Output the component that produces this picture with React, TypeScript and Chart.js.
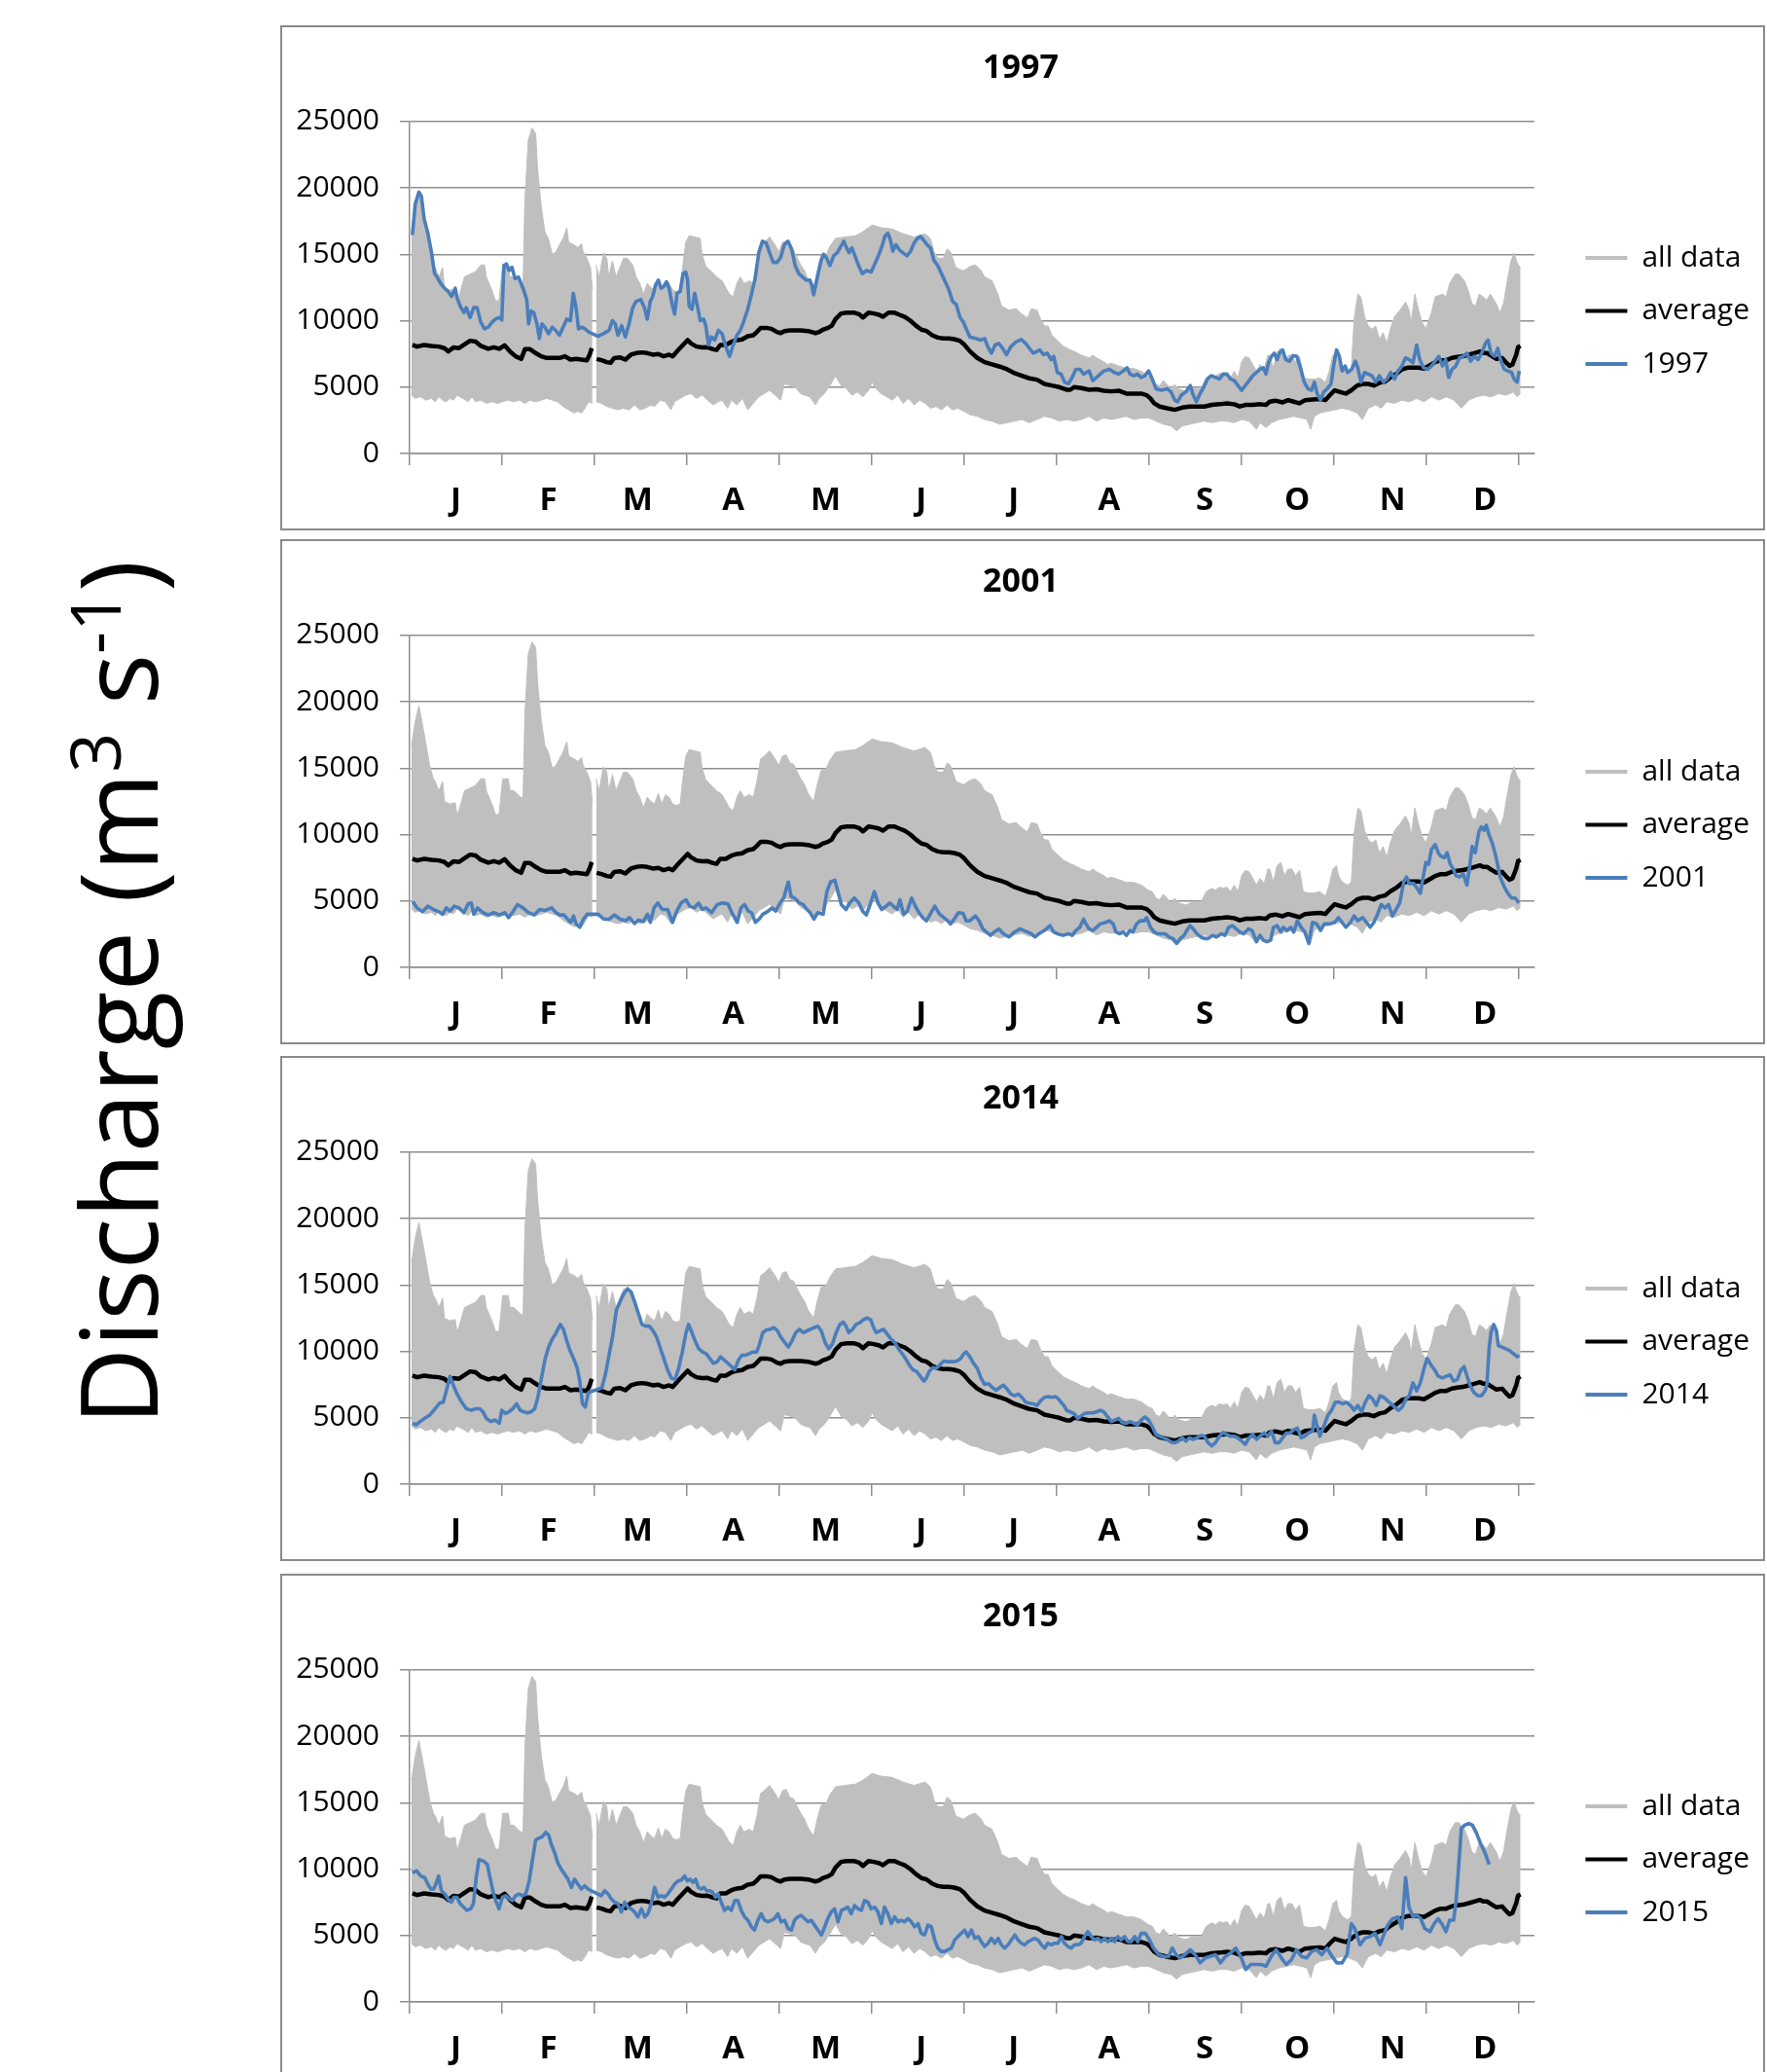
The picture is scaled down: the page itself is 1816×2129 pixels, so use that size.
import React, { useEffect, useRef } from 'react';
import { Chart, registerables } from 'chart.js';

Chart.register(...registerables);

const FONT = '"Open Sans", "Liberation Sans", sans-serif';
const GRAY = '#BFBFBF';
const BLUE = '#4A7EBB';
const AXIS = '#8E8E8E';

const MONTH_LABELS = ['J', 'F', 'M', 'A', 'M', 'J', 'J', 'A', 'S', 'O', 'N', 'D'];
const MONTH_LABEL_DAYS = [15, 45, 74, 105, 135, 166, 196, 227, 258, 288, 319, 349];
const TICK_DAYS = [0, 30, 60, 90, 120, 150, 180, 210, 240, 270, 300, 330, 360];
const Y_TICKS = [0, 5000, 10000, 15000, 20000, 25000];
const YEARS = ['1997', '2001', '2014', '2015'];

type P = [number, number | null];

// upper envelope of all years ("all data")
const ALL_MAX: P[] = [[0.6,16700],[1.8,18500],[3,19700],[4.7,17600],[6.5,15200],[7.7,14200],[8.3,14000],[9.5,13300],[10.7,14000],[11.3,12500],[13,12300],[14.8,12400],[15.4,11400],[16.6,12300],[17.8,13300],[19.6,13500],[21.4,13700],[23.1,14200],[24.3,14200],[24.9,13300],[26.7,12300],[27.9,11500],[29,11500],[30.2,14200],[32,14200],[32.6,13300],[33.8,13300],[35.6,12900],[36.8,12700],[37.4,19100],[38.5,23600],[39.7,24500],[40.9,24100],[41.5,21500],[42.7,18600],[43.9,16700],[45,16200],[46.3,15000],[47.5,15200],[48.6,15700],[49.8,16200],[51,17000],[51.6,15900],[53.4,15700],[54.6,15500],[55.8,15800],[56.3,15200],[57.5,14700],[58.7,14000],[59.3,12300],[60,null],[60.5,14200],[61.5,13300],[62.9,15100],[64,14700],[64.6,13300],[65.8,14500],[67,13300],[68.2,14000],[69.4,14700],[70.6,14700],[72.4,14200],[73.5,13300],[74.7,12800],[75.9,12000],[77.1,12800],[78.3,12500],[79.5,12300],[80.7,13100],[81.8,12300],[83,13000],[84.2,12800],[85.4,12300],[86.6,12200],[87.8,12300],[88.4,13700],[89.6,15900],[90.7,16400],[92.5,16300],[94.3,16200],[94.9,15000],[96.1,14100],[97.9,13700],[99.6,13300],[101.4,13000],[102.6,12500],[103.8,12000],[105,11800],[106.2,12800],[107.3,13300],[108.5,12800],[110.3,13000],[111.5,12800],[112.7,14000],[113.9,15700],[115.1,15900],[116.8,16300],[118.6,15700],[119.8,15200],[121,15900],[122.2,16000],[123.4,15400],[124.6,15300],[125.8,14700],[126.9,14200],[128.1,13800],[129.3,13100],[131.1,12500],[132.3,13800],[133.5,14800],[135.2,14960],[136.4,15600],[138.2,16200],[141.2,16300],[144.7,16400],[147.1,16700],[150.1,17200],[153,17000],[156.6,16900],[160.1,16550],[163.7,16300],[167.2,16550],[169,16200],[170.2,15200],[171.4,14700],[173.2,14700],[174.4,15400],[175.5,15200],[177.3,14000],[179.7,13750],[182,14100],[183.6,14200],[185.4,13800],[186.6,13300],[189,13000],[190.9,12000],[192.1,11100],[194.5,10800],[196.9,10900],[198.1,10600],[200.5,10200],[201.7,10900],[203.6,10800],[204.8,10100],[206,9600],[207.2,9600],[208.4,8900],[210.2,8500],[212,8100],[214.4,7800],[215.6,7700],[218,7400],[220.5,7200],[221.7,7400],[222.9,7200],[225.3,6900],[226.5,6700],[227.7,6800],[230.1,6600],[232.6,6400],[235,6400],[237.4,6200],[239.8,5800],[241,5700],[242.2,5200],[243.4,5100],[244.6,5500],[245.8,5200],[247,4850],[248.3,5200],[249.5,4850],[251.9,4700],[254.3,4950],[256.7,4850],[258.5,5700],[260.3,5950],[261.5,5800],[262.8,6050],[264,5950],[265.2,6050],[266.4,5700],[267.6,6200],[268.8,5700],[270,6900],[271.2,7300],[272.4,7200],[273.6,6700],[274.8,6200],[276,6700],[277.3,6300],[278.5,7400],[279.1,7400],[280.3,6430],[281.5,7650],[282.7,7900],[283.9,6900],[285.1,7400],[286.3,7400],[287.5,6900],[288.8,7300],[290,5700],[291.8,5600],[293.6,5600],[295.4,5700],[297.2,5340],[298.4,6200],[299.6,7400],[300.8,7650],[301.4,6920],[302.6,6430],[304.4,6190],[305.6,6430],[306.5,10100],[307.7,12000],[308.7,11800],[309.9,10300],[311.1,9600],[312.3,9360],[313.5,9600],[314.7,8600],[315.9,9100],[317.1,8300],[318.3,9400],[319.6,10300],[321.4,10800],[323.2,11400],[324.4,10800],[325,9840],[326.2,12000],[327.4,10800],[328.6,9840],[329.8,9400],[331.6,10600],[332.8,11800],[335.2,12000],[336.4,11800],[337.5,12800],[339.3,13500],[340.5,13500],[342.3,13000],[343.5,12300],[344.7,11300],[345.9,11100],[347.1,12000],[348.4,11800],[349.5,11550],[350.7,12000],[352.6,11300],[353.8,10600],[355,11300],[356.2,13000],[357.4,14500],[358.4,15100],[359.2,14500],[359.8,14200],[360.5,14000]];

// lower envelope of all years ("all data")
const ALL_MIN: P[] = [[0.6,4400],[1.8,4150],[3.5,4270],[5.3,4020],[7.1,4150],[8.3,3900],[9.5,4270],[10.7,4020],[11.9,3900],[13.1,4150],[14.2,4020],[15.4,4390],[17.2,4150],[19,3900],[20.2,4270],[21.4,3900],[23.1,4020],[24.9,3780],[26.7,3900],[28.5,3780],[30.2,3900],[32,4020],[33.8,3900],[35.6,4020],[37.4,3780],[39.1,4020],[40.9,3900],[42.7,4020],[44.5,4150],[46.3,4020],[48,3900],[49.8,3540],[51.6,3290],[53.4,3050],[54.6,3170],[55.8,3050],[56.9,3410],[58.1,3900],[59.3,3780],[60,null],[60.5,3900],[62.3,3780],[64,3540],[65.8,3410],[67.6,3290],[69.4,3410],[71.2,3290],[73,3660],[74.7,3290],[76.5,3410],[78.3,3660],[79.5,3540],[81.3,4020],[83,3900],[84.8,3290],[86,3900],[87.8,4150],[89.6,4390],[91.3,4510],[93.1,4150],[94.9,4390],[96.7,4020],[98.5,3660],[100.2,3900],[101.4,4020],[103.2,3410],[104.4,4020],[106.2,3660],[108,4150],[109.7,3290],[111.5,3780],[113.3,4270],[115.1,4510],[116.8,4760],[118.6,4390],[120.4,4020],[121.6,5240],[123.4,5120],[125.1,5000],[126.9,4510],[128.1,4390],[129.9,4270],[131.7,3660],[132.9,4150],[134.6,4510],[136.4,5120],[138.2,5850],[140,5120],[141.8,4880],[143.5,4390],[145.3,4630],[147.1,4270],[148.9,4760],[150.1,5370],[151.3,4880],[153,4510],[154.8,4270],[156.6,4020],[158.4,4390],[160.1,3780],[161.9,4150],[163.7,3660],[165.5,4020],[167.3,3780],[169,3410],[170.8,3540],[172.6,3290],[174.4,3660],[176.1,3290],[177.9,3410],[180,3170],[181.8,2930],[184.2,2800],[186.6,2560],[189,2440],[191.5,2200],[193.9,2320],[196.3,2440],[198.7,2560],[201.1,2320],[203.6,2560],[206,2800],[208.4,2680],[210.8,2440],[213.2,2560],[215.6,2440],[218,2560],[220.5,2800],[222.9,2440],[225.3,2680],[227.7,2560],[230.1,2680],[232.6,2800],[235,2560],[237.4,2680],[239.8,2680],[242.2,2440],[244.6,2200],[247.1,2070],[248.9,1710],[250.7,2070],[253.1,2200],[255.5,2320],[257.9,2440],[260.3,2320],[262.8,2440],[265.2,2440],[267.6,2320],[270,2560],[272.4,2440],[274.8,1830],[276,2320],[277.9,1950],[279.7,2320],[282.1,2560],[284.5,2680],[286.9,2800],[289.3,2680],[291.2,2560],[292.4,1830],[293.6,2800],[295.4,3050],[297.8,3170],[300.2,3290],[302.6,3410],[305,3290],[307.4,3050],[309.2,2560],[311.1,3410],[313.5,3660],[315.3,3410],[317.1,3900],[319.6,3780],[322,4020],[324.4,3900],[326.8,4150],[329.2,3900],[331.6,4270],[334,4020],[336.4,4270],[338.9,4020],[341.3,3410],[343.7,4020],[346.1,4270],[348.5,4390],[351,4270],[353.4,4510],[355.8,4390],[358.2,4630],[359.4,4270],[360.5,4510]];

// long-term average
const AVERAGE: P[] = [[0.9,8170],[2.4,8050],[4.7,8170],[7.1,8100],[9.5,8050],[11.3,7930],[12.5,7680],[14.2,7980],[16,7930],[17.8,8220],[19.6,8490],[21.4,8420],[23.1,8100],[25.5,7880],[27.3,8000],[29.1,7880],[30.8,8150],[32.6,7680],[34.4,7320],[36.2,7120],[37.4,7850],[39.1,7850],[40.9,7560],[42.7,7320],[44.5,7190],[46.3,7190],[48.6,7190],[50.4,7320],[52.2,7070],[54,7120],[55.8,7070],[57.5,7020],[58.4,7440],[59.1,7930],[60,null],[60.7,7120],[62.3,7020],[64,6880],[65.2,6830],[66.4,7190],[68.2,7240],[70,7070],[71.8,7440],[73.5,7560],[75.3,7610],[77.1,7560],[78.9,7440],[80.7,7490],[82.4,7320],[84.2,7440],[85.4,7320],[87.2,7800],[89,8240],[90.2,8540],[91.3,8290],[93.1,8050],[94.9,7980],[96.7,8000],[98.5,7850],[99.6,7800],[100.8,8170],[102.6,8170],[104.4,8410],[106.2,8540],[107.9,8590],[109.7,8830],[111.5,8900],[112.7,9150],[113.9,9460],[115.7,9460],[117.4,9390],[119.2,9150],[120.4,9070],[121.6,9220],[123.4,9270],[125.1,9270],[126.9,9270],[129.3,9220],[131.7,9070],[132.9,9150],[134,9320],[135.8,9460],[137,9630],[138.2,10120],[140,10540],[141.8,10610],[144.1,10610],[145.9,10490],[147.1,10240],[148.9,10610],[150.7,10540],[152.4,10440],[153.6,10290],[155.4,10610],[157.2,10610],[159,10440],[160.7,10290],[162.5,10000],[164.3,9630],[166.1,9320],[167.8,9220],[169.6,8900],[171.4,8730],[173.2,8660],[175,8660],[176.7,8610],[178.5,8490],[180,8200],[181.8,7700],[184.2,7200],[186.6,6880],[189,6710],[191.5,6540],[193.9,6340],[196.3,6050],[198.7,5850],[201.1,5660],[203.6,5560],[206,5240],[208.4,5120],[210.8,5000],[213.2,4800],[214.4,4800],[215.6,5000],[218,4930],[220.5,4800],[222.9,4830],[225.3,4730],[227.7,4680],[230.1,4730],[232.6,4510],[235,4510],[237.4,4510],[239.2,4390],[240.4,4150],[241.6,3780],[243.4,3540],[245.8,3410],[248.3,3290],[250.7,3460],[253.1,3540],[255.5,3540],[257.9,3540],[260.3,3660],[262.8,3710],[265.2,3780],[267.6,3710],[269.4,3540],[271.2,3660],[273.6,3660],[276,3710],[277.9,3660],[279.1,3900],[280.9,3980],[283.3,3850],[285.1,4020],[286.9,3900],[288.7,3780],[290.6,4020],[293,4070],[295.4,4100],[297.2,4020],[298.4,4340],[300.2,4760],[302,4630],[303.8,4510],[305.6,4760],[307.5,5120],[309.3,5240],[311.1,5240],[312.9,5120],[314.7,5320],[316.5,5410],[318.3,5730],[320.1,5980],[322,6340],[323.8,6460],[325.6,6460],[327.4,6460],[329.2,6390],[331,6630],[332.8,6880],[334.6,7020],[336.4,7020],[338.2,7200],[340,7270],[341.8,7320],[343.7,7440],[345.5,7560],[347.3,7680],[348.5,7560],[349.7,7560],[350.9,7370],[352.7,7120],[354.5,7190],[355.7,6880],[356.9,6590],[357.9,6710],[359.1,7440],[359.7,8000],[360.5,8100]];

const Y1997: P[] = [[0.9,16460],[1.8,18780],[3,19680],[3.8,19390],[4.7,17680],[5.9,16590],[7.1,15120],[8.1,13540],[8.9,13290],[10.1,12800],[11.3,12440],[12.5,12200],[13.6,11830],[14.8,12440],[15.4,11710],[16.4,11100],[17.6,10610],[18.4,10980],[19.6,10240],[20.8,10980],[21.9,10980],[23.1,9880],[24.3,9390],[25.5,9510],[26.7,9880],[27.9,10120],[29.1,10240],[29.9,10050],[30.6,14150],[31.4,14270],[32.3,13780],[33.2,14020],[34.2,13170],[35.3,13290],[36.8,12440],[38,11590],[38.6,9760],[39.4,10730],[40.3,10610],[41.3,9760],[42.1,8660],[42.9,9760],[43.9,9510],[45.1,9020],[46.3,9510],[47.4,9270],[48.6,8900],[49.8,9510],[51,10120],[52.2,10000],[53.1,12070],[54,10980],[54.8,9390],[55.8,9510],[56.9,9390],[58.1,9150],[59.3,9020],[61.1,8830],[62.9,9020],[64.7,9270],[65.8,10000],[66.7,9760],[67.6,8900],[68.8,9630],[70,8780],[71.2,9760],[72.4,10980],[73.5,11460],[75,11590],[76.2,10980],[77.1,10120],[78.1,11460],[78.9,11830],[79.8,12680],[80.7,13050],[81.6,12440],[82.4,12560],[83.4,12930],[84.2,12440],[85.2,11220],[86,10490],[86.8,12070],[87.8,12200],[88.7,13540],[89.6,13660],[90.2,13050],[90.7,11100],[91.6,10850],[92.5,12070],[93.5,10980],[94.3,10000],[95.4,10120],[96.1,9630],[97,8170],[97.9,8780],[99,8540],[100.2,9270],[101.4,9020],[102.6,8050],[103.8,7320],[105,8170],[106.2,8900],[107.3,9270],[108.5,10000],[109.7,10850],[110.9,11950],[112.1,13170],[113.3,15120],[114.5,15980],[115.7,15850],[116.8,15120],[118,14390],[119.2,14390],[120.4,14760],[121.6,15730],[122.8,15980],[124,15370],[125.1,14150],[126.3,13540],[127.5,13290],[128.7,13050],[129.9,13050],[130.5,12680],[131.1,11950],[132,12930],[133.5,14510],[134.3,15000],[135.2,14760],[136.4,14150],[137.6,14880],[138.8,15120],[140,15610],[140.9,15980],[141.8,15490],[142.6,15120],[143.5,15490],[144.5,14880],[145.7,14150],[146.9,13540],[148.3,13780],[149.8,13660],[150.7,14150],[152.1,14880],[153.3,15610],[154.2,16340],[155.2,16590],[156,16100],[156.8,15240],[157.8,15730],[158.8,15370],[160,15120],[161.4,14880],[162.6,15240],[163.7,15850],[164.9,16220],[165.8,16340],[166.7,16100],[167.9,15730],[169,15490],[170.2,14510],[171.4,14150],[172.6,13540],[173.8,12930],[175,12320],[176.2,11460],[177.4,11220],[178.6,10240],[179.7,9900],[180.6,9400],[181.8,8780],[183.6,8660],[185.4,8540],[186.6,8660],[187.6,8050],[188.8,7560],[190,8170],[191.2,8290],[192.4,7930],[193.7,7440],[195.1,8050],[196.9,8410],[198.5,8590],[199.9,8290],[201.1,7930],[202.4,7560],[203.6,7680],[204.5,7800],[205.7,7440],[206.9,7560],[208.2,7070],[209,7320],[210.2,6100],[211.4,5980],[212.6,5370],[213.8,5240],[215,5730],[216.2,6340],[217.5,6340],[218.7,5980],[220.5,6220],[221.7,5490],[223.5,5850],[225.3,6220],[227.1,6340],[228.7,6100],[230.1,5980],[231.6,6220],[232.8,6460],[233.8,5980],[235,5850],[236.2,5980],[237.4,5730],[238.6,5850],[239.8,6220],[241,5610],[242.2,4880],[244,4760],[245.8,4880],[247.1,4630],[248.3,4020],[249.2,3900],[250.4,4390],[251.9,4630],[253.3,5120],[254.3,4390],[255.3,3900],[256.5,4510],[257.7,5000],[258.9,5610],[260.1,5850],[261.5,5730],[262.8,5610],[264,5980],[265.2,5980],[266.4,5610],[267.6,5490],[268.8,5120],[270,4760],[271.2,5120],[272.4,5490],[273.6,5850],[274.8,6100],[276,6340],[277,6460],[277.9,5980],[278.7,6830],[279.7,7320],[280.6,7560],[281.5,7070],[282.3,7560],[283.3,7800],[284.3,7070],[285.5,6950],[286.7,7370],[287.9,7320],[289.1,6460],[290.3,5370],[291.5,4880],[292.7,4760],[293.6,5370],[294.5,4510],[295.6,4020],[296.6,4630],[297.8,4880],[299,5240],[300,6830],[300.8,7800],[301.7,7320],[302.6,6220],[303.6,6590],[304.4,6100],[305.7,6340],[306.9,6950],[307.7,6460],[308.7,5370],[309.9,6100],[311.1,5980],[312.3,5850],[313.5,5370],[314.7,5850],[316,5370],[317.2,5610],[318.4,6100],[319.6,5610],[320.8,6220],[322,6590],[323.2,7200],[324.4,7070],[325.6,6830],[326.8,8170],[327.8,7070],[329,6460],[330.4,6340],[331.6,6590],[332.8,6950],[334,7320],[335.2,6590],[336.2,7070],[337.2,5730],[338.3,6340],[339.5,6590],[340.7,7200],[341.9,7320],[343.1,7560],[344.3,6950],[345.5,7320],[346.7,7070],[347.9,7560],[349.1,8290],[350,8540],[350.9,7560],[352.1,7320],[353.1,7930],[354,7070],[355.2,6340],[356.4,6220],[357.6,6100],[358.4,5610],[359.4,5370],[360.1,6220]];

const Y2001: P[] = [[1,4970],[2.4,4480],[4.2,4190],[5.9,4610],[7.7,4360],[9.5,4190],[10.7,4000],[11.9,4480],[13.1,4240],[14.5,4610],[16,4480],[17.6,4120],[19,4780],[20,4850],[20.8,4000],[22,4480],[23.8,4120],[25.5,3950],[27.3,4120],[29.1,3950],[30.9,4120],[32.1,3750],[33.5,4190],[35,4730],[36.8,4480],[38.6,4120],[40.4,3950],[42.2,4360],[43.9,4290],[46.1,4480],[47.5,4120],[48.7,3950],[50.1,3950],[51.3,3630],[52.3,3390],[53.2,3870],[54,3270],[55.2,3020],[56.4,3630],[57.6,4000],[59.4,4000],[61.2,4000],[63,3630],[64.7,3630],[66.5,3950],[68.3,3630],[70.1,3510],[71.3,3750],[73,3310],[74.2,3560],[75.8,3460],[77.2,4000],[78.1,3390],[79.3,4480],[80.5,4850],[82,4360],[83.7,4360],[85.3,3390],[86.7,4240],[88.1,4850],[89.7,5090],[90.9,4610],[92.4,4480],[93.8,4850],[95,4360],[96.2,4480],[98,4120],[99.8,4730],[101.5,4850],[103.3,4780],[104.8,4000],[106.3,3390],[107.5,4480],[108.7,4730],[109.9,4240],[111,4120],[112.2,3390],[113.4,3630],[114.6,4000],[116.4,4240],[117.6,4480],[118.8,4240],[120.2,4850],[121.4,5220],[122.1,5820],[122.9,6430],[123.8,5340],[124.9,5220],[126.5,4850],[127.7,4730],[128.9,4360],[130,4120],[131.2,3630],[132.4,4120],[134.2,4000],[135.4,5700],[136.6,6430],[138,6560],[139,5700],[140.1,4730],[141.6,4360],[142.8,4850],[144.3,5220],[145.8,4850],[147,4240],[148.2,3950],[149.6,4850],[150.8,5700],[152,4850],[153.2,4360],[154.6,4610],[155.8,4850],[157,4610],[158.2,4360],[159.1,5090],[160.3,4000],[161.5,4240],[162.9,5220],[164.1,4610],[165.3,4120],[166.5,3750],[167.7,3510],[169.2,4120],[170.4,4610],[172,4000],[173.4,3750],[174.6,3510],[175.5,3270],[176.7,3630],[178.1,4120],[179.6,4060],[180.6,3510],[181.8,3510],[183.6,3870],[184.8,3510],[186,2900],[187.2,2660],[188.5,2410],[189.7,2660],[191.2,2900],[192.7,2530],[194.5,2290],[196.3,2660],[198.1,2900],[199.3,2780],[200.5,2660],[201.7,2530],[203,2290],[204.2,2530],[206,2780],[207.8,3140],[209,2660],[210.2,2530],[212,2410],[213.8,2530],[215,2410],[216.2,2780],[217.5,3020],[218.7,3630],[219.5,3270],[220.5,2900],[221.7,2780],[222.9,3020],[224.1,3270],[225.9,3390],[227.1,3510],[228.3,3270],[229.2,2660],[230.4,2530],[231.6,2660],[232.6,2410],[233.8,2780],[234.7,2660],[235.9,3270],[237.1,3510],[238.4,3510],[239.2,3750],[240.4,3020],[241.6,2660],[242.8,2530],[244,2530],[245.2,2530],[246.4,2290],[247.7,2170],[248.9,1800],[250.1,2170],[251.3,2410],[252.5,2900],[253.3,3140],[254.3,2900],[255.5,2530],[256.7,2290],[257.9,2170],[259.1,2170],[260.6,2410],[261.8,2290],[263.4,2530],[264.6,2410],[265.8,3020],[267,3140],[268.2,2900],[269.4,2660],[270.6,2530],[272.2,2900],[273.4,2780],[274.8,1930],[276,2410],[277,2050],[278.2,1930],[279.4,2050],[280.3,3020],[281.5,3140],[282.7,2660],[283.5,3020],[284.7,2780],[285.9,3020],[286.9,2660],[288.1,3510],[289.3,3020],[290.5,2660],[291.8,1800],[293,3390],[294.4,3270],[295.6,2780],[296.8,3270],[298.4,3270],[300.2,3390],[301.4,3750],[302.6,3390],[303.8,3020],[305.3,3390],[306.5,3870],[307.7,3510],[309.3,3750],[310.5,3390],[311.7,3020],[312.9,3390],[314.1,4000],[315.3,4730],[316.5,4480],[317.7,4730],[318.9,3870],[320.1,4360],[321.3,4850],[322.6,6430],[323.5,6800],[324.4,6310],[325.8,6310],[327,5950],[328,5580],[328.9,6800],[329.8,7900],[330.7,7770],[331.6,8870],[332.8,9240],[333.8,8630],[334.6,8380],[335.8,8260],[336.7,8630],[337.7,7770],[338.7,7410],[339.5,6920],[340.7,6800],[341.9,7040],[343.1,6190],[343.9,7410],[344.8,9110],[345.8,8630],[347,10210],[347.8,10580],[348.7,10330],[349.4,10700],[350.3,9970],[351.5,9240],[352.7,8140],[353.9,6800],[355.2,6070],[356.4,5580],[357.6,5220],[358.8,5220],[360,4850]];

const Y2014: P[] = [[1,4590],[2.1,4460],[3.3,4700],[4.8,4950],[6.5,5200],[8.3,5680],[9.7,6100],[10.9,6170],[11.9,7020],[13.1,8120],[14.3,7390],[15.4,6780],[16.9,6170],[18.4,5680],[20,5560],[21.4,5680],[22.8,5680],[23.8,5440],[24.9,4950],[26.4,4710],[27.6,4830],[29.1,4590],[29.9,5560],[31.1,5320],[32.1,5440],[33.5,5680],[34.7,6050],[35.9,5560],[37.1,5440],[38.2,5370],[39.4,5440],[40.6,5680],[41.6,6540],[42.8,8000],[44,9460],[45.1,10320],[46.3,10930],[47.3,11290],[48.1,11660],[48.9,12020],[49.9,11660],[50.8,10930],[52,10070],[53.2,9460],[54.4,8730],[55.2,7760],[56.1,6050],[57,5800],[58,6900],[59.4,7020],[61.2,7150],[62.4,7270],[63.5,8240],[64.7,9710],[65.9,11170],[67.1,13120],[68.3,13730],[69.5,14340],[70.7,14710],[71.9,14460],[73,13730],[74.2,12880],[75.4,12020],[76.6,11900],[77.8,11900],[79,11540],[80.2,11050],[81.4,10200],[82.5,9460],[83.7,8610],[84.9,8000],[86.1,7880],[87.3,8730],[88.5,9950],[89.7,11410],[90.5,12020],[91.4,11540],[92.6,10800],[93.8,10200],[95,9950],[96.2,9830],[97.4,9460],[98.6,9100],[99.8,9220],[100.9,9590],[102.1,9340],[103.3,9100],[104.5,8850],[105.5,8610],[106.7,9340],[107.8,9710],[109,9710],[110.2,9830],[111.4,9950],[112.6,9950],[113.4,10440],[114.6,11410],[115.8,11610],[117,11660],[118.2,11780],[119.4,11540],[120.5,11050],[121.7,10680],[122.9,10320],[124.1,10800],[125.3,11410],[126.5,11660],[127.7,11410],[128.9,11540],[130,11660],[131.2,11780],[132.4,11900],[133.6,11540],[134.8,10680],[136,10200],[137.2,10560],[138.4,11410],[139.6,12020],[140.7,12200],[141.6,11900],[142.5,11410],[143.7,11660],[144.9,12020],[146.1,12150],[147.3,12390],[148.5,12510],[149.6,12390],[150.6,11780],[151.4,11410],[152.6,11540],[153.8,11660],[155,11290],[156.2,10930],[157.4,10680],[158.6,10200],[159.8,9830],[160.9,9460],[162.1,8980],[163.3,8610],[164.5,8490],[165.7,8120],[166.9,7760],[167.7,8000],[168.6,8490],[169.8,8780],[171,8730],[172.2,9020],[173.4,9270],[174.6,9220],[176.4,9220],[177.6,9270],[178.8,9460],[179.9,9830],[180.6,9950],[181.8,9590],[183,9100],[184.2,8730],[185.4,8000],[186.6,7510],[187.9,7560],[189.1,7270],[190.3,7070],[191.5,7270],[192.7,7460],[193.9,7150],[195.1,6780],[196.3,6660],[197.5,6780],[198.7,6540],[199.9,6170],[201.1,6100],[202.4,6050],[203.6,5930],[204.8,6290],[206,6540],[207.2,6590],[208.4,6540],[209.6,6590],[210.6,6410],[211.4,6170],[212.3,5930],[213.2,5560],[214.4,5440],[215.6,5320],[216.8,4950],[217.8,5120],[219,5320],[220.5,5370],[221.7,5370],[222.9,5440],[224.1,5560],[225.3,5440],[226.5,5070],[227.7,4710],[228.9,4830],[230.1,4950],[231.3,4640],[232.6,4590],[233.8,4710],[235,4590],[236.2,4460],[237.4,4830],[238.6,5070],[239.8,4830],[241,4340],[242.2,3730],[243.4,3610],[244.6,3490],[245.8,3370],[247.1,3170],[248.3,3120],[249.5,3240],[250.7,3490],[251.9,3240],[253.1,3490],[254.3,3370],[255.5,3490],[256.7,3660],[257.9,3610],[259.1,3120],[260.3,2880],[261.5,3120],[262.8,3610],[264,3900],[265.2,3730],[266.4,3610],[267.6,3610],[268.8,3490],[270,3240],[271.2,3000],[272.4,3490],[273.6,3730],[274.8,3370],[276,3610],[277.3,3850],[278.5,3610],[279.7,3980],[280.9,3120],[282.1,3120],[283.3,3490],[284.5,3850],[285.7,3850],[286.9,4100],[288.1,4220],[289.3,3490],[290.5,3610],[291.7,3850],[293,3980],[293.6,5200],[294.4,4460],[295.4,3610],[296.8,4460],[298,5200],[299.2,5560],[300.4,6170],[301.6,6170],[302.8,6050],[304,6170],[305.3,5930],[306.5,5560],[307.7,5930],[308.9,5440],[310.1,6170],[311.3,6660],[312.5,6410],[313.7,5930],[314.9,6660],[316.1,6540],[317.3,6290],[318.5,6050],[319.7,5800],[320.9,5560],[322.1,5800],[323.3,6410],[324.4,6660],[325.6,7630],[326.8,7020],[328,7630],[329.2,8730],[330.2,9460],[331.4,8980],[332.6,8610],[333.8,8120],[335.2,8000],[336.4,8120],[337.6,8240],[338.8,7760],[340,7880],[341.2,8610],[342.2,8850],[343,8240],[344.2,7390],[345.4,6900],[346.6,6660],[347.8,6660],[349,7020],[349.6,7510],[350.3,10200],[350.9,11410],[351.8,12020],[352.7,11540],[353.3,10440],[354.5,10320],[355.7,10200],[356.9,10070],[358.2,9830],[359.4,9590],[360.1,9710]];

const Y2015: P[] = [[0.9,9730],[2.3,9860],[3.6,9480],[4.9,9360],[5.9,8870],[6.9,8500],[7.8,8500],[8.5,8870],[9.4,9480],[10.3,8370],[11.4,8130],[12.4,7760],[13.5,7510],[14.4,7880],[15.3,7880],[16.4,7390],[17.5,7140],[18.6,6890],[19.8,7010],[20.7,7390],[21.6,9360],[22.5,10720],[24,10600],[25.2,10350],[26.1,9360],[27,8370],[27.9,7630],[29,7010],[30.1,7880],[31.2,8000],[32.3,7760],[33.4,7630],[34.4,8000],[35.5,8130],[36.6,8000],[37.7,8130],[38.8,9110],[39.8,10600],[40.9,12200],[42,12330],[43.1,12450],[44.2,12770],[45.1,12570],[46,11830],[47.1,11210],[48.1,10470],[49.2,9980],[50.3,9610],[51.4,9240],[52.5,8620],[53.5,9240],[54.6,8870],[55.7,8500],[56.8,8740],[57.9,8500],[58.9,8370],[60,8250],[61.1,8130],[62.2,8000],[63.3,8370],[64.4,8130],[65.4,7760],[66.5,7510],[67.6,7390],[68.7,6770],[69.8,7510],[70.8,7140],[71.9,7010],[73,6770],[74.1,6400],[75.2,7010],[76.3,6400],[77.3,6640],[78.4,7390],[79.5,8620],[80.6,7880],[81.7,8000],[82.7,7880],[83.8,8130],[84.9,8500],[86,8870],[87.1,9110],[88.2,9170],[89.2,9480],[90.1,9110],[91,9240],[91.9,9000],[92.8,9240],[93.7,8620],[94.6,8500],[95.5,8620],[96.4,8370],[97.4,8370],[98.3,8250],[99.3,7880],[100.1,8130],[101.1,7510],[102.2,6890],[103.3,7140],[104.4,6890],[105.5,7630],[106.5,7630],[107.6,6890],[108.7,6400],[109.8,6150],[110.9,5660],[111.9,5410],[113,6150],[114.1,6640],[115.2,6150],[116.3,6030],[117.4,6150],[118.4,6270],[119.5,6640],[120.6,6030],[121.7,6150],[122.8,5530],[123.9,5410],[124.9,6150],[126,6400],[127.1,6520],[128.2,6270],[129.3,6030],[130.3,6150],[131.4,5780],[132.5,5410],[133.6,5040],[134.7,5660],[135.7,6270],[136.8,6770],[137.9,7010],[139,6030],[140.1,6890],[141.2,7010],[142.2,7140],[143.3,6640],[144.4,7260],[145.5,7010],[146.6,6890],[147.6,7630],[148.7,7510],[149.8,7010],[150.9,7140],[152,6770],[153.1,5900],[154.1,7140],[155.2,6640],[156.3,5900],[157.4,6400],[158.5,6030],[159.5,6150],[160.6,6030],[161.7,6270],[162.8,6030],[163.9,5660],[165,5900],[166,5160],[167.1,5040],[168.2,5780],[169.3,5660],[170.4,4670],[171.4,4050],[172.5,3800],[173.6,3800],[174.7,3930],[175.8,4050],[176.9,4670],[177.9,4920],[179,5160],[180.1,5410],[181.2,4920],[182.3,5410],[183.4,4790],[184.5,4920],[185.5,4540],[186.6,4170],[187.7,4420],[188.8,4790],[189.9,4420],[191,4790],[192,4300],[193.1,4050],[194.2,4300],[195.3,4670],[196.4,5040],[197.4,4670],[198.5,4420],[199.6,4300],[200.7,4540],[201.8,4670],[202.8,4790],[203.9,4670],[205,4300],[206.1,4050],[207.1,4420],[208.2,4300],[209.3,4420],[210.4,4420],[211.5,4920],[212.5,4420],[213.6,4170],[214.7,4050],[215.8,4300],[216.9,4300],[217.9,4420],[219,4920],[220.1,5290],[221.2,4920],[222.3,4670],[223.4,4790],[224.4,4540],[225.5,4790],[226.6,4540],[227.7,4790],[228.8,4540],[229.8,4920],[230.9,4670],[232,4920],[233.1,4540],[234.2,4540],[235.3,4920],[236.3,4540],[237.4,5160],[238.8,5160],[240.1,4670],[241.4,4050],[243.1,3560],[244.7,3430],[246.3,3430],[247.5,4050],[248.7,3560],[250,3310],[251.6,3560],[253.3,3930],[254.9,3560],[256.5,2940],[258.2,3310],[259.8,3430],[261.5,3560],[263.1,2940],[264.8,3430],[266.4,3680],[268.1,4050],[269.7,3430],[271.3,2450],[273,2820],[274.6,2820],[276.3,2820],[277.9,2690],[279.6,3430],[281.2,3930],[282.9,3310],[284.5,2820],[286.2,3190],[287.8,3930],[289.4,3430],[291.1,3310],[292.7,3800],[294.4,3930],[296,3560],[297.7,4050],[299.3,3430],[300.9,2940],[302.6,2940],[304.2,3560],[305.6,5900],[306.7,5530],[308.4,4300],[310,4790],[311.6,4920],[313.3,5160],[314.9,4300],[316.1,5040],[317.4,5780],[319,6270],[320.7,6400],[322,5530],[323.2,9360],[324.3,7140],[325.6,6400],[326.9,6520],[328.1,6270],[329.4,5530],[331.1,5290],[332.5,5900],[333.8,6270],[335.2,5780],[336.3,5290],[337.5,6150],[338.8,6150],[339.6,7630],[340.4,10100],[341.3,13070],[342.4,13310],[343.7,13440],[344.9,13310],[346.2,12700],[347.5,11950],[349,11210],[350.3,10350]];

const YEAR_SERIES: P[][] = [Y1997, Y2001, Y2014, Y2015];

const toPoints = (arr: P[]) => arr.map(([x, y]) => ({ x, y }));

function makeConfig(year: string, series: P[]): any {
  return {
    type: 'line',
    data: {
      datasets: [
        { label: 'all data', data: toPoints(ALL_MAX), borderColor: GRAY, backgroundColor: GRAY, borderWidth: 1, pointRadius: 0, fill: 1, order: 3, tension: 0 },
        { label: 'all data (min)', data: toPoints(ALL_MIN), borderColor: GRAY, backgroundColor: GRAY, borderWidth: 1, pointRadius: 0, fill: false, order: 3, tension: 0 },
        { label: 'average', data: toPoints(AVERAGE), borderColor: '#000000', borderWidth: 4.5, pointRadius: 0, fill: false, order: 1, tension: 0, borderJoinStyle: 'round' },
        { label: year, data: toPoints(series), borderColor: BLUE, borderWidth: 3.6, pointRadius: 0, fill: false, order: 0, tension: 0, borderJoinStyle: 'round' },
      ],
    },
    options: {
      responsive: false,
      animation: false,
      devicePixelRatio: 1,
      events: [],
      layout: { padding: { left: 0, right: 4, top: 0, bottom: 0 } },
      plugins: {
        tooltip: { enabled: false },
        title: {
          display: true,
          text: year,
          color: '#000000',
          font: { family: FONT, size: 34, weight: 'bold' },
          padding: { top: 22, bottom: 34 },
        },
        legend: {
          position: 'right',
          align: 'center',
          title: { display: true, text: '', font: { size: 1 }, padding: { top: 0, bottom: 67 } },
          labels: {
            color: '#000000',
            font: { family: FONT, size: 30 },
            boxWidth: 43,
            boxHeight: 4,
            padding: 24.5,
            generateLabels: () => [
              { text: 'all data', fillStyle: GRAY, strokeStyle: GRAY, fontColor: '#000000', lineWidth: 0, hidden: false, datasetIndex: 0 },
              { text: 'average', fillStyle: '#000000', strokeStyle: '#000000', fontColor: '#000000', lineWidth: 0, hidden: false, datasetIndex: 2 },
              { text: year, fillStyle: BLUE, strokeStyle: BLUE, fontColor: '#000000', lineWidth: 0, hidden: false, datasetIndex: 3 },
            ],
          },
        },
      },
      scales: {
        x: {
          type: 'linear',
          position: 'bottom',
          weight: 0,
          min: 0,
          max: 365,
          afterBuildTicks: (s: any) => { s.ticks = TICK_DAYS.map((v) => ({ value: v })); },
          afterFit: (s: any) => { s.height = 12; },
          grid: { display: true, drawOnChartArea: false, drawTicks: true, tickLength: 12, color: AXIS, lineWidth: 1.5 },
          border: { display: true, color: AXIS, width: 1.5 },
          ticks: { display: false },
        },
        xl: {
          type: 'linear',
          position: 'bottom',
          weight: 1,
          min: 0,
          max: 365,
          afterBuildTicks: (s: any) => { s.ticks = MONTH_LABEL_DAYS.map((v) => ({ value: v })); },
          afterFit: (s: any) => { s.height = 65; },
          grid: { display: false, drawTicks: false },
          border: { display: false },
          ticks: {
            autoSkip: false,
            maxRotation: 0,
            padding: 17,
            color: '#000000',
            font: { family: FONT, size: 33, weight: 'bold' },
            callback: (_v: any, i: number) => MONTH_LABELS[i],
          },
        },
        y: {
          type: 'linear',
          position: 'left',
          min: 0,
          max: 25000,
          afterBuildTicks: (s: any) => { s.ticks = Y_TICKS.map((v) => ({ value: v })); },
          afterFit: (s: any) => { s.width = 131; },
          grid: { color: AXIS, lineWidth: 1.5, drawTicks: true, tickLength: 10 },
          border: { display: true, color: AXIS, width: 1.5 },
          ticks: {
            padding: 21,
            color: '#000000',
            font: { family: FONT, size: 30 },
            callback: (v: any) => String(v),
          },
        },
        spacer: {
          type: 'linear',
          position: 'right',
          weight: 0,
          afterFit: (s: any) => { s.width = 28; },
          grid: { display: false, drawTicks: false },
          border: { display: false },
          ticks: { display: false },
        },
      },
    },
  };
}

function Panel({ year, series, top }: { year: string; series: P[]; top: number }) {
  const ref = useRef<HTMLCanvasElement | null>(null);
  useEffect(() => {
    if (!ref.current) return;
    const chart = new Chart(ref.current, makeConfig(year, series));
    return () => chart.destroy();
  }, [year, series]);
  return (
    <div
      style={{
        position: 'absolute',
        left: 288,
        top,
        width: 1526,
        height: 519,
        border: '2px solid #8A8A8A',
        boxSizing: 'border-box',
        background: '#ffffff',
      }}
    >
      <canvas ref={ref} width={1522} height={515} style={{ display: 'block', width: 1522, height: 515 }} />
    </div>
  );
}

const PANEL_TOPS = [26, 554, 1085, 1617];

export default function App() {
  return (
    <div
      style={{
        position: 'absolute',
        left: 0,
        top: 0,
        width: 1816,
        height: 2129,
        overflow: 'hidden',
        background: '#ffffff',
        fontFamily: FONT,
      }}
    >
      <div
        style={{
          position: 'absolute',
          left: 119,
          top: 1020,
          transform: 'translate(-50%, -50%) rotate(-90deg)',
          fontSize: 110,
          lineHeight: 1,
          whiteSpace: 'nowrap',
          color: '#000000',
        }}
      >
        Discharge (m<sup style={{ fontSize: '0.65em', verticalAlign: '38px', lineHeight: 0 }}>3</sup> s<sup style={{ fontSize: '0.65em', verticalAlign: '38px', lineHeight: 0 }}>-1</sup>)
      </div>
      {YEARS.map((y, i) => (
        <Panel key={y} year={y} series={YEAR_SERIES[i]} top={PANEL_TOPS[i]} />
      ))}
    </div>
  );
}
